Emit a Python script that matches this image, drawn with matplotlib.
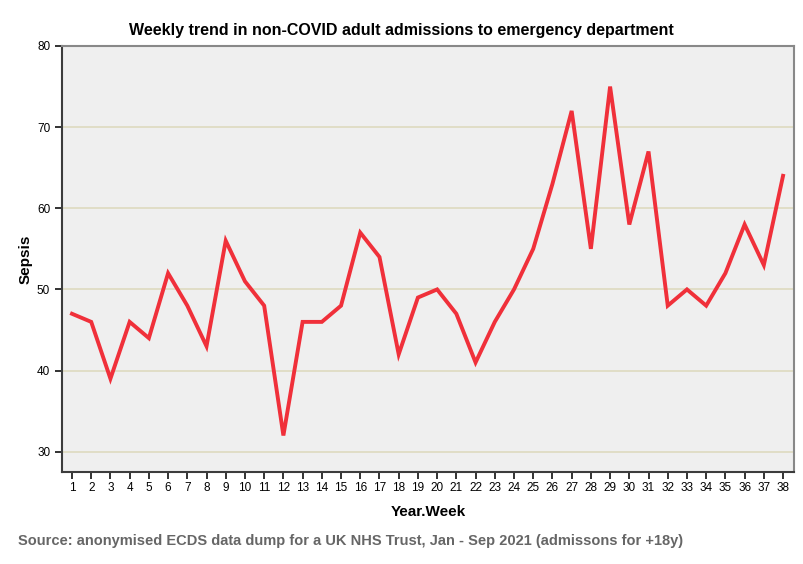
import matplotlib
matplotlib.use("Agg")
import matplotlib.pyplot as plt

plt.rcParams['font.family'] = ['Liberation Sans', 'DejaVu Sans']

weeks = list(range(1, 39))
sepsis = [47, 46, 39, 46, 44, 52, 48, 43, 56, 51, 48, 32, 46, 46, 48, 57, 54, 42, 49, 50,
          47, 41, 46, 50, 55, 63, 72, 55, 75, 58, 67, 48, 50, 48, 52, 58, 53, 64]
y_ticks = [30, 40, 50, 60, 70, 80]

fig = plt.figure(figsize=(8.04, 5.64), dpi=100)
ax = fig.add_axes([62 / 804, 1 - 472 / 564, 732 / 804, 426 / 564])
ax.set_facecolor('#efefef')

for y in y_ticks[:-1]:
    ax.axhline(y, color='#dedac0', lw=1.2, zorder=1)

ax.plot(weeks, sepsis, color='#f0303a', lw=2.8, zorder=3, solid_joinstyle='miter')

ax.set_xlim(0.48, 38.57)
ax.set_ylim(27.5, 80)
ax.set_xticks(weeks)
ax.set_xticklabels([str(w) for w in weeks])
ax.set_yticks(y_ticks)
ax.tick_params(axis='both', labelsize=8.5, color='#222222', length=5, width=1.3)
ax.tick_params(axis='x', pad=2)

for side in ['left', 'bottom']:
    ax.spines[side].set_color('#3c3c3c')
    ax.spines[side].set_linewidth(1.5)
for side in ['top', 'right']:
    ax.spines[side].set_color('#888888')
    ax.spines[side].set_linewidth(1.5)

ax.set_xlabel('Year.Week', fontsize=11, fontweight='bold', labelpad=8)
ax.set_ylabel('Sepsis', fontsize=11, fontweight='bold', labelpad=3)
fig.text(401 / 804, 1 - 30 / 564, 'Weekly trend in non-COVID adult admissions to emergency department',
         ha='center', va='center', fontsize=11.5, fontweight='bold')
fig.text(18 / 804, 1 - 541 / 564,
         'Source: anonymised ECDS data dump for a UK NHS Trust, Jan - Sep 2021 (admissons for +18y)',
         ha='left', va='center', fontsize=10.5, fontweight='bold', color='#666666')

fig.savefig('out.png', dpi=100)
